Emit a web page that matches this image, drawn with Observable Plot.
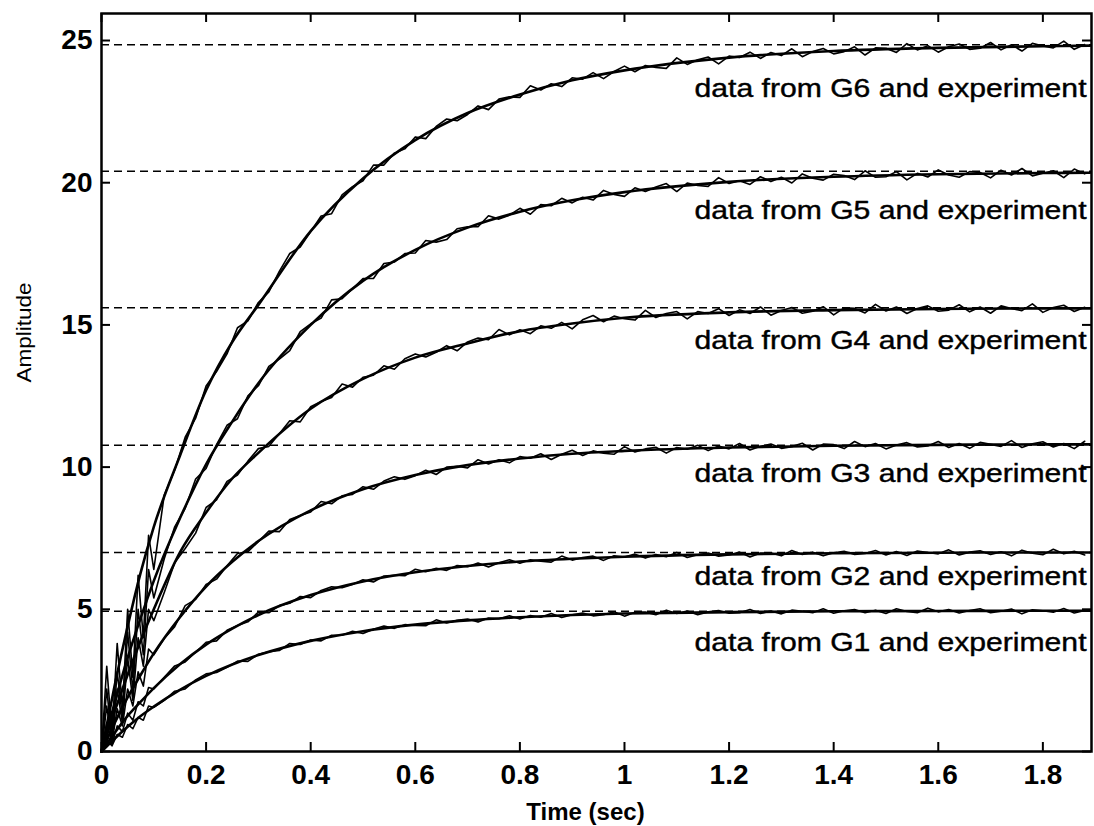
<!DOCTYPE html>
<html>
<head>
<meta charset="utf-8">
<script src="https://cdn.jsdelivr.net/npm/d3@7"></script>
<script src="https://cdn.jsdelivr.net/npm/@observablehq/plot@0.6"></script>
<style>
  html, body { margin: 0; padding: 0; background: #fff; }
  #chart { width: 1094px; height: 826px; }
  #chart svg g[aria-label$="tick label"] text { font-size: 28px; font-weight: bold; }
</style>
</head>
<body>
<div id="chart"></div>
<script>
// ---------- data ----------
const seriesNames = ["G1", "G2", "G3", "G4", "G5", "G6"];
const finalValues = [4.93, 7.0, 10.77, 15.6, 20.4, 24.85];      // dashed steady-state lines
const labelValues = [3.8, 6.12, 9.77, 14.45, 19.02, 23.31];      // where each label sits

const modelTime = [0, 0.025, 0.05, 0.075, 0.1, 0.15, 0.2, 0.25, 0.3, 0.4, 0.5, 0.6, 0.7, 0.8, 0.9, 1.0, 1.2, 1.4, 1.6, 1.8, 1.89];
const modelG1 = [0, 0.45, 0.87, 1.25, 1.58, 2.17, 2.66, 3.06, 3.39, 3.89, 4.23, 4.46, 4.61, 4.72, 4.8, 4.85, 4.9, 4.93, 4.94, 4.95, 4.95];
const modelG2 = [0, 0.65, 1.25, 1.75, 2.23, 3.07, 3.76, 4.32, 4.8, 5.5, 5.98, 6.3, 6.52, 6.68, 6.78, 6.85, 6.93, 6.97, 6.99, 7.0, 7.0];
const modelG3 = [0, 1.0, 1.9, 2.7, 3.45, 4.72, 5.8, 6.67, 7.4, 8.48, 9.22, 9.72, 10.07, 10.3, 10.47, 10.57, 10.69, 10.75, 10.78, 10.8, 10.8];
const modelG4 = [0, 1.4, 2.7, 3.9, 5.0, 7.0, 8.4, 9.6, 10.5, 12.05, 13.1, 13.85, 14.35, 14.78, 15.05, 15.25, 15.44, 15.52, 15.56, 15.58, 15.58];
const modelG5 = [0, 1.7, 3.3, 4.7, 6.0, 8.2, 10.1, 11.6, 12.95, 15.0, 16.55, 17.64, 18.42, 18.98, 19.38, 19.67, 20.03, 20.21, 20.3, 20.34, 20.35];
const modelG6 = [0, 2.3, 4.4, 6.3, 7.9, 10.4, 12.7, 14.4, 15.7, 18.3, 20.15, 21.5, 22.45, 23.1, 23.6, 23.95, 24.4, 24.63, 24.74, 24.8, 24.82];

const expTime = [0, 0.01, 0.02, 0.03, 0.04, 0.05, 0.06, 0.07, 0.08, 0.09, 0.1,
  0.12, 0.14, 0.16, 0.18, 0.2, 0.22, 0.24, 0.26, 0.28, 0.3,
  0.32, 0.34, 0.36, 0.38, 0.4, 0.42, 0.44, 0.46, 0.48, 0.5,
  0.52, 0.54, 0.56, 0.58, 0.6, 0.62, 0.64, 0.66, 0.68, 0.7,
  0.72, 0.74, 0.76, 0.78, 0.8, 0.82, 0.84, 0.86, 0.88, 0.9,
  0.92, 0.94, 0.96, 0.98, 1, 1.02, 1.04, 1.06, 1.08, 1.1,
  1.12, 1.14, 1.16, 1.18, 1.2, 1.22, 1.24, 1.26, 1.28, 1.3,
  1.32, 1.34, 1.36, 1.38, 1.4, 1.42, 1.44, 1.46, 1.48, 1.5,
  1.52, 1.54, 1.56, 1.58, 1.6, 1.62, 1.64, 1.66, 1.68, 1.7,
  1.72, 1.74, 1.76, 1.78, 1.8, 1.82, 1.84, 1.86, 1.88];

const expG1 = [0, 0.4, 0.2, 0.6, 0.5, 0.95, 0.8, 1.2, 1.1, 1.6, 1.55,
  1.80, 2.12, 2.20, 2.52, 2.73, 2.78, 2.96, 3.18, 3.17, 3.42,
  3.51, 3.55, 3.80, 3.76, 3.92, 3.89, 4.09, 4.09, 4.23, 4.15,
  4.30, 4.41, 4.33, 4.46, 4.43, 4.42, 4.63, 4.52, 4.61, 4.66,
  4.55, 4.69, 4.67, 4.77, 4.66, 4.78, 4.72, 4.85, 4.71, 4.81,
  4.87, 4.77, 4.81, 4.91, 4.76, 4.90, 4.90, 4.81, 4.97, 4.85,
  4.94, 4.81, 4.91, 4.96, 4.86, 4.88, 4.99, 4.85, 4.94, 4.84,
  4.97, 4.93, 4.88, 5.02, 4.86, 4.95, 4.99, 4.88, 4.97, 4.85,
  5.02, 4.92, 4.88, 5.04, 4.91, 4.99, 4.87, 4.96, 5.02, 4.88,
  4.93, 5.01, 4.84, 4.98, 4.95, 4.90, 5.03, 4.87, 4.96];
const expG2 = [0, 0.6, 0.25, 0.9, 0.7, 1.35, 1.1, 1.75, 1.6, 2.25, 2.2,
  2.61, 3.01, 3.15, 3.49, 3.84, 3.89, 4.26, 4.43, 4.56, 4.90,
  4.88, 5.13, 5.21, 5.45, 5.41, 5.66, 5.79, 5.76, 5.87, 6.04,
  5.96, 6.17, 6.20, 6.18, 6.41, 6.32, 6.44, 6.37, 6.54, 6.50,
  6.63, 6.49, 6.64, 6.74, 6.62, 6.74, 6.69, 6.66, 6.87, 6.73,
  6.82, 6.87, 6.72, 6.88, 6.84, 6.94, 6.80, 6.93, 6.85, 7.00,
  6.82, 6.92, 6.98, 6.87, 6.91, 7.01, 6.84, 6.98, 6.98, 6.88,
  7.07, 6.93, 7.01, 6.88, 6.99, 7.04, 6.93, 6.96, 7.07, 6.91,
  7.03, 6.89, 7.05, 7.00, 6.95, 7.09, 6.91, 7.01, 7.06, 6.93,
  7.02, 6.88, 7.08, 6.97, 6.92, 7.11, 6.95, 7.04, 6.91];
const expG3 = [0, 1.0, 0.3, 1.5, 0.9, 2.2, 1.6, 2.8, 2.3, 3.6, 3.4,
  3.97, 4.39, 5.13, 5.35, 5.87, 6.06, 6.53, 6.96, 7.03, 7.38,
  7.75, 7.73, 8.16, 8.30, 8.42, 8.79, 8.71, 8.99, 9.04, 9.31,
  9.22, 9.51, 9.66, 9.57, 9.70, 9.89, 9.74, 10.00, 10.03, 9.97,
  10.26, 10.11, 10.26, 10.15, 10.37, 10.31, 10.47, 10.27, 10.45, 10.59,
  10.41, 10.57, 10.49, 10.45, 10.72, 10.53, 10.64, 10.70, 10.49, 10.69,
  10.63, 10.77, 10.58, 10.74, 10.64, 10.83, 10.60, 10.73, 10.81, 10.66,
  10.72, 10.84, 10.60, 10.81, 10.79, 10.65, 10.90, 10.72, 10.83, 10.64,
  10.78, 10.86, 10.71, 10.74, 10.90, 10.69, 10.83, 10.66, 10.87, 10.80,
  10.73, 10.93, 10.69, 10.82, 10.89, 10.71, 10.83, 10.65, 10.91];
const expG4 = [0, 1.6, 0.3, 2.2, 1.0, 3.3, 1.8, 4.0, 3.0, 5.0, 4.6,
  5.59, 6.64, 7.14, 7.68, 8.58, 8.85, 9.50, 9.72, 10.21, 10.65,
  10.73, 11.17, 11.63, 11.59, 12.12, 12.31, 12.45, 12.92, 12.81, 13.16,
  13.23, 13.56, 13.44, 13.81, 13.98, 13.87, 14.04, 14.27, 14.09, 14.40,
  14.54, 14.48, 14.84, 14.65, 14.83, 14.69, 14.97, 14.88, 15.09, 14.86,
  15.18, 15.33, 15.11, 15.31, 15.22, 15.17, 15.51, 15.26, 15.40, 15.47,
  15.21, 15.47, 15.40, 15.57, 15.33, 15.53, 15.40, 15.63, 15.34, 15.51,
  15.61, 15.41, 15.48, 15.64, 15.35, 15.60, 15.58, 15.42, 15.72, 15.49,
  15.63, 15.40, 15.58, 15.67, 15.48, 15.52, 15.71, 15.46, 15.63, 15.41,
  15.67, 15.58, 15.50, 15.74, 15.44, 15.61, 15.69, 15.47, 15.62];
const expG5 = [0, 2.2, 0.4, 2.8, 1.2, 4.2, 2.1, 5.0, 3.4, 6.4, 5.4,
  6.78, 7.90, 8.55, 9.58, 9.95, 10.79, 11.47, 11.70, 12.51, 12.86,
  13.54, 13.80, 14.10, 14.76, 15.04, 15.24, 15.88, 15.92, 16.27, 16.63,
  16.63, 17.16, 17.21, 17.51, 17.53, 17.97, 17.91, 18.00, 18.38, 18.45,
  18.45, 18.84, 18.72, 18.86, 19.10, 18.89, 19.23, 19.19, 19.45, 19.29,
  19.49, 19.39, 19.73, 19.59, 19.52, 19.82, 19.69, 19.85, 19.97, 19.69,
  19.99, 19.90, 19.87, 20.18, 19.97, 20.07, 19.94, 20.21, 20.04, 20.19,
  19.99, 20.31, 20.16, 20.09, 20.30, 20.25, 20.11, 20.42, 20.19, 20.21,
  20.39, 20.10, 20.33, 20.20, 20.45, 20.27, 20.19, 20.39, 20.36, 20.17,
  20.44, 20.27, 20.50, 20.24, 20.33, 20.42, 20.18, 20.48, 20.31];
const expG6 = [0, 3.0, 0.6, 3.8, 1.5, 5.0, 2.6, 6.2, 4.0, 7.6, 6.4,
  9.02, 9.90, 11.05, 11.72, 12.85, 13.36, 13.98, 14.90, 15.14, 15.79,
  16.16, 16.88, 17.51, 17.74, 18.28, 18.83, 18.91, 19.57, 19.86, 20.07,
  20.62, 20.62, 21.04, 21.19, 21.61, 21.55, 21.98, 22.24, 22.18, 22.40,
  22.70, 22.57, 22.94, 23.02, 23.00, 23.41, 23.26, 23.48, 23.38, 23.69,
  23.64, 23.87, 23.66, 23.91, 24.10, 23.90, 24.12, 24.05, 24.02, 24.39,
  24.16, 24.32, 24.42, 24.18, 24.45, 24.40, 24.59, 24.37, 24.58, 24.47,
  24.71, 24.43, 24.61, 24.72, 24.53, 24.61, 24.78, 24.49, 24.74, 24.73,
  24.58, 24.89, 24.67, 24.82, 24.59, 24.78, 24.88, 24.69, 24.73, 24.93,
  24.67, 24.85, 24.63, 24.90, 24.81, 24.74, 24.98, 24.69, 24.86];

const xTicks = [0, 0.2, 0.4, 0.6, 0.8, 1, 1.2, 1.4, 1.6, 1.8];
const yTicks = [0, 5, 10, 15, 20, 25];
const xDomain = [0, 1.893];
const yDomain = [0, 25.95];

// ---------- build tables ----------
const modelSeries = [modelG1, modelG2, modelG3, modelG4, modelG5, modelG6];
const expSeries = [expG1, expG2, expG3, expG4, expG5, expG6];
const modelRows = [];
const expRows = [];
seriesNames.forEach((name, i) => {
  modelSeries[i].forEach((v, j) => modelRows.push({series: name, t: modelTime[j], v}));
  expSeries[i].forEach((v, j) => expRows.push({series: name, t: expTime[j], v}));
});
const labelRows = seriesNames.map((name, i) => ({text: `data from ${name} and experiment`, y: labelValues[i]}));

// ---------- layout ----------
const W = 1094, H = 826;
const mL = 101, mR = 3, mT = 13, mB = 75;
const frameW = W - mL - mR, frameH = H - mT - mB;
const tickLen = 9;

const chart = Plot.plot({
  width: W,
  height: H,
  marginLeft: mL,
  marginRight: mR,
  marginTop: mT,
  marginBottom: mB,
  style: {fontFamily: "'Liberation Sans', Arial, sans-serif", background: "#fff", color: "#000", overflow: "visible"},
  x: {domain: xDomain},
  y: {domain: yDomain},
  marks: [
    Plot.ruleY(finalValues, {stroke: "#000", strokeWidth: 1.5, strokeDasharray: "8,5"}),
    Plot.line(expRows, {x: "t", y: "v", z: "series", stroke: "#000", strokeWidth: 1.6}),
    Plot.line(modelRows, {x: "t", y: "v", z: "series", stroke: "#000", strokeWidth: 2.6, curve: "monotone-x"}),
    Plot.text(labelRows, {y: "y", text: "text", frameAnchor: "right", dx: -5, textAnchor: "end", lineAnchor: "middle", fontSize: 25, fill: "#000", stroke: "#000", strokeWidth: 0.4}),
    // inward MATLAB-style ticks on all four sides
    Plot.ruleX(xTicks, {stroke: "#000", strokeWidth: 2, insetTop: frameH - tickLen}),
    Plot.ruleX(xTicks, {stroke: "#000", strokeWidth: 2, insetBottom: frameH - tickLen}),
    Plot.ruleY(yTicks, {stroke: "#000", strokeWidth: 2, insetRight: frameW - tickLen}),
    Plot.ruleY(yTicks, {stroke: "#000", strokeWidth: 2, insetLeft: frameW - tickLen}),
    Plot.frame({stroke: "#000", strokeWidth: 2.5}),
    Plot.axisX(xTicks, {tickFormat: d => String(d), tickSize: 0, tickPadding: 13, label: null}),
    Plot.axisY(yTicks, {tickSize: 0, tickPadding: 9, label: null}),
    Plot.text(["Time (sec)"], {frameAnchor: "bottom", dy: 61, dx: -11, fontWeight: "bold", fontSize: 24, lineAnchor: "middle", fill: "#000"}),
    Plot.text(["Amplitude"], {frameAnchor: "left", dx: -77, rotate: -90, fontSize: 21, lineAnchor: "middle", fill: "#000"})
  ]
});

document.getElementById("chart").appendChild(chart);

// stretch the lettering horizontally like the reference
chart.querySelectorAll("text").forEach(t => {
  const s = t.textContent;
  if (s.startsWith("data from")) {
    t.setAttribute("textLength", 392);
    t.setAttribute("lengthAdjust", "spacingAndGlyphs");
  } else if (s === "Amplitude") {
    t.setAttribute("textLength", 100);
    t.setAttribute("lengthAdjust", "spacingAndGlyphs");
  }
});
</script>
</body>
</html>
